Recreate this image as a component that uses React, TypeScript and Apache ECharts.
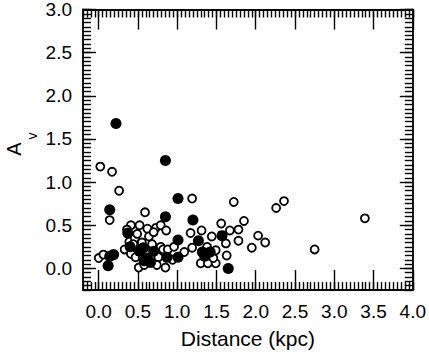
import React, { useEffect, useRef } from "react";
import * as echarts from "echarts";

// Tick labels
const xTicks = [0.0, 0.5, 1.0, 1.5, 2.0, 2.5, 3.0, 3.5, 4.0];
const yTicks = [0.0, 0.5, 1.0, 1.5, 2.0, 2.5, 3.0];

// Open circles
const openDist = [
  0.02, 0.17, 0.26, 0.14, 0.59, 1.19, 1.72, 0.41, 0.52, 0.62, 0.73, 0.79, 0.86, 1.17, 1.31,
  1.44, 1.56, 1.67, 1.78, 1.85, 1.95, 2.03, 1.78, 1.62, 1.63, 2.12, 2.26, 2.36, 2.75, 3.39,
  0.0, 0.06, 0.33, 0.39, 0.46, 0.49, 0.41, 0.47, 0.51, 0.58, 0.56, 0.64, 0.73, 0.76, 0.74,
  0.79, 0.85, 0.82, 0.88, 0.96, 1.09, 1.19, 1.3, 1.39, 1.49, 1.49, 1.38, 0.94, 1.46, 0.44,
  0.55, 0.68, 0.62, 0.36, 0.7, 0.53,
];
const openAv = [
  1.18, 1.12, 0.9, 0.56, 0.65, 0.81, 0.77, 0.5, 0.5, 0.46, 0.47, 0.5, 0.44, 0.41, 0.44,
  0.37, 0.52, 0.44, 0.45, 0.55, 0.24, 0.38, 0.32, 0.29, 0.15, 0.3, 0.7, 0.78, 0.22, 0.58,
  0.12, 0.16, 0.22, 0.31, 0.35, 0.4, 0.17, 0.13, 0.01, 0.04, 0.12, 0.37, 0.21, 0.13, 0.04,
  0.25, 0.01, 0.22, 0.22, 0.25, 0.19, 0.24, 0.06, 0.06, 0.06, 0.21, 0.25, 0.1, 0.12, 0.28,
  0.3, 0.28, 0.2, 0.45, 0.42, 0.22,
];

// Filled circles
const filledDist = [
  0.22, 0.85, 1.01, 0.14, 0.12, 0.14, 0.19, 0.85, 1.2, 0.37, 0.4, 0.57, 0.52, 0.62, 0.66,
  0.7, 0.58, 0.87, 1.01, 1.01, 1.27, 1.32, 1.42, 1.35, 1.57, 1.65,
];
const filledAv = [
  1.68, 1.25, 0.81, 0.68, 0.03, 0.14, 0.16, 0.6, 0.56, 0.41, 0.25, 0.24, 0.2, 0.12, 0.07,
  0.2, 0.09, 0.13, 0.33, 0.13, 0.32, 0.19, 0.19, 0.14, 0.38, 0.0,
];

const FONT = "'Liberation Sans', Arial, Helvetica, sans-serif";

function range(min: number, max: number, step: number) {
  const out: number[] = [];
  const n = Math.round((max - min) / step);
  for (let i = 0; i <= n; i++) out.push(Math.round((min + i * step) * 1000) / 1000);
  return out;
}

export default function App() {
  const ref = useRef<HTMLDivElement>(null);
  useEffect(() => {
    if (!ref.current) return;
    const chart = echarts.init(ref.current, undefined, { renderer: "svg" });
    const X_MIN = -0.2, X_MAX = 4.0, Y_MIN = -0.25, Y_MAX = 3.0;
    const xMinor = range(X_MIN, X_MAX, 0.05);
    const yMinor = range(Y_MIN, Y_MAX, 0.05);
    const lineStyle = { color: "#000", width: 1.4 };

    const mkX = (pos: string, major: boolean, main: boolean) => ({
      type: "value",
      min: X_MIN,
      max: X_MAX,
      position: pos,
      axisLine: { show: main, onZero: false, lineStyle: { color: "#000", width: 1.8 } },
      axisTick: {
        show: true,
        inside: true,
        length: major ? 20 : 8,
        customValues: major ? xTicks : xMinor,
        lineStyle,
      },
      axisLabel: main && pos === "bottom"
        ? {
            show: true,
            customValues: xTicks,
            formatter: (v: number) => v.toFixed(1),
            fontSize: 19,
            fontFamily: FONT,
            color: "#000",
            margin: 12,
          }
        : { show: false },
      splitLine: { show: false },
      ...(main && pos === "bottom"
        ? {
            name: "Distance (kpc)",
            nameLocation: "middle",
            nameGap: 38,
            nameTextStyle: { fontSize: 21, fontFamily: FONT, color: "#000" },
          }
        : {}),
    });
    const mkY = (pos: string, major: boolean, main: boolean) => ({
      type: "value",
      min: Y_MIN,
      max: Y_MAX,
      position: pos,
      axisLine: { show: main, onZero: false, lineStyle: { color: "#000", width: 1.8 } },
      axisTick: {
        show: true,
        inside: true,
        length: major ? 13 : 8,
        customValues: major ? yTicks : yMinor,
        lineStyle,
      },
      axisLabel: main && pos === "left"
        ? {
            show: true,
            customValues: yTicks,
            formatter: (v: number) => v.toFixed(1),
            fontSize: 19,
            fontFamily: FONT,
            color: "#000",
            margin: 11,
          }
        : { show: false },
      splitLine: { show: false },
    });

    const openData = openDist.map((d, i) => [d, openAv[i]]);
    const filledData = filledDist.map((d, i) => [d, filledAv[i]]);

    chart.setOption({
      animation: false,
      grid: { left: 83, top: 8.5, width: 333, height: 281.5, containLabel: false },
      xAxis: [
        mkX("bottom", true, true),
        mkX("bottom", false, false),
        mkX("top", true, true),
        mkX("top", false, false),
      ],
      yAxis: [
        mkY("left", true, true),
        mkY("left", false, false),
        mkY("right", true, true),
        mkY("right", false, false),
      ],
      graphic: [
        {
          type: "text",
          x: 14,
          y: 149,
          rotation: Math.PI / 2,
          style: {
            text: "A",
            fontSize: 20,
            fontFamily: FONT,
            fill: "#000",
            align: "center",
            verticalAlign: "middle",
          },
        },
        {
          type: "text",
          x: 32,
          y: 136,
          rotation: Math.PI / 2,
          style: {
            text: "v",
            fontSize: 14,
            fontFamily: FONT,
            fill: "#000",
            align: "center",
            verticalAlign: "middle",
          },
        },
      ],
      series: [
        {
          type: "scatter",
          xAxisIndex: 0,
          yAxisIndex: 0,
          data: openData,
          symbol: "circle",
          symbolSize: 8,
          silent: true,
          itemStyle: { color: "#fff", borderColor: "#000", borderWidth: 1.8, opacity: 1 },
        },
        {
          type: "scatter",
          xAxisIndex: 0,
          yAxisIndex: 0,
          data: filledData,
          symbol: "circle",
          symbolSize: 11,
          silent: true,
          itemStyle: { color: "#000", opacity: 1 },
        },
      ],
    });
    return () => chart.dispose();
  }, []);
  return (
    <div
      ref={ref}
      style={{ position: "absolute", left: 0, top: 0, width: 429, height: 362, background: "#fff" }}
    />
  );
}
